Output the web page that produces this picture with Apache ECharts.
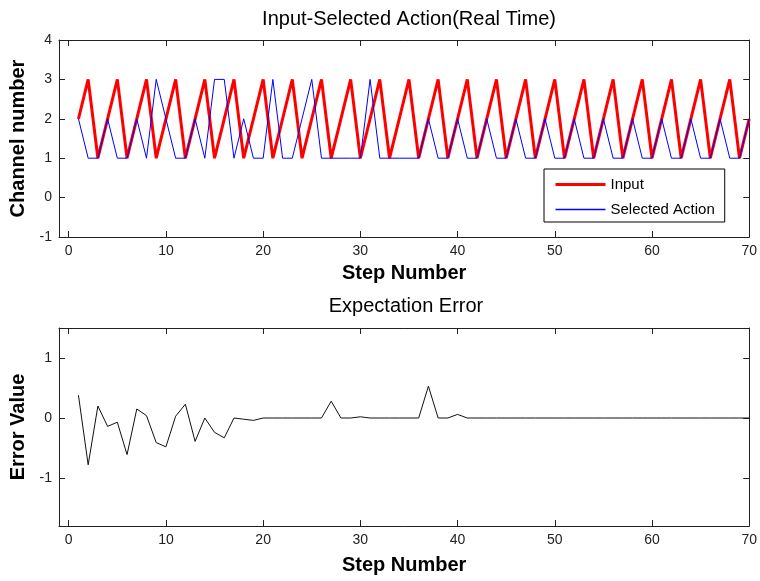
<!DOCTYPE html>
<html>
<head>
<meta charset="utf-8">
<script src="https://cdn.jsdelivr.net/npm/echarts@6/dist/echarts.min.js"></script>
<style>
html,body{margin:0;padding:0;background:#fff;}
#chart{width:760px;height:581px;}
</style>
</head>
<body>
<div id="chart"></div>
<script>
var steps = [1,2,3,4,5,6,7,8,9,10,11,12,13,14,15,16,17,18,19,20,21,22,23,24,25,26,27,28,29,30,31,32,33,34,35,36,37,38,39,40,41,42,43,44,45,46,47,48,49,50,51,52,53,54,55,56,57,58,59,60,61,62,63,64,65,66,67,68,69,70];
var inputVals = [2,3,1,2,3,1,2,3,1,2, 3,1,2,3,1,2,3,1,2,3, 1,2,3,1,2,3,1,2,3,1, 2,3,1,2,3,1,2,3,1,2, 3,1,2,3,1,2,3,1,2,3, 1,2,3,1,2,3,1,2,3,1, 2,3,1,2,3,1,2,3,1,2];
var actionVals = [2,1,1,2,1,1,2,1,3,2, 1,1,2,1,3,3,1,2,1,1, 3,1,1,2,3,1,1,1,1,1, 3,1,1,1,1,1,2,1,1,2, 1,1,2,1,1,2,1,1,2,1, 1,2,1,1,2,1,1,2,1,1, 2,1,1,2,1,1,2,1,1,2];
var errorVals = [0.38,-0.78,0.2,-0.14,-0.07,-0.61,0.15,0.04,-0.41,-0.48, 0.03,0.23,-0.39,0,-0.24,-0.33,0,-0.02,-0.04,0, 0,0,0,0,0,0,0.28,0,0,0.02, 0,0,0,0,0,0,0.53,0,0,0.06, 0,0,0,0,0,0,0,0,0,0, 0,0,0,0,0,0,0,0,0,0, 0,0,0,0,0,0,0,0,0,0];
var xTicks = [0,10,20,30,40,50,60,70];
var yTicksTop = [-1,0,1,2,3,4];
var yTicksBottom = [-1,0,1];

function pairs(vals){ return steps.map(function(s,i){ return [s, vals[i]]; }); }

var FONT = 'Liberation Sans';
var lineCol = '#222';

function xAx(grid, pos, labels, name, gap){
  return {
    type:'value', gridIndex:grid, position:pos, min:-1, max:70,
    axisLine:{show:true, onZero:false, lineStyle:{color:lineCol, width:1}},
    axisTick:{show:true, inside:true, length:6, customValues:xTicks, lineStyle:{color:lineCol}},
    axisLabel:{show:labels, customValues:xTicks, margin:7, color:'#222', fontFamily:FONT, fontSize:14},
    splitLine:{show:false},
    name: name || '', nameLocation:'middle', nameGap:gap || 25,
    nameTextStyle:{fontFamily:FONT, fontSize:20, fontWeight:'bold', color:'#000'}
  };
}
function yAx(grid, pos, labels, min, max, ticks, name){
  return {
    type:'value', gridIndex:grid, position:pos, min:min, max:max,
    axisLine:{show:true, onZero:false, lineStyle:{color:lineCol, width:1}},
    axisTick:{show:true, inside:true, length:6, customValues:ticks, lineStyle:{color:lineCol}},
    axisLabel:{show:labels, customValues:ticks, margin:7, color:'#222', fontFamily:FONT, fontSize:14},
    splitLine:{show:false},
    name: name || '', nameLocation:'middle', nameGap:23,
    nameTextStyle:{fontFamily:FONT, fontSize:20, fontWeight:'bold', color:'#000'}
  };
}

var chart = echarts.init(document.getElementById('chart'), null, {renderer:'canvas'});
chart.setOption({
  backgroundColor:'#fff',
  animation:false,
  title:[
    {text:'Input-Selected Action(Real Time)', left:409, top:9, textAlign:'center', padding:0,
     textStyle:{fontFamily:FONT, fontSize:20, fontWeight:'normal', color:'#000'}},
    {text:'Expectation Error', left:406, top:296, textAlign:'center', padding:0,
     textStyle:{fontFamily:FONT, fontSize:20, fontWeight:'normal', color:'#000'}}
  ],
  grid:[
    {left:59, top:40, width:693, height:197},
    {left:59, top:328, width:693, height:198}
  ],
  xAxis:[
    xAx(0,'bottom',true,'Step Number',26),
    xAx(0,'top',false),
    xAx(1,'bottom',true,'Step Number',29),
    xAx(1,'top',false)
  ],
  yAxis:[
    yAx(0,'left',true,-1,4,yTicksTop,'Channel number'),
    yAx(0,'right',false,-1,4,yTicksTop),
    yAx(1,'left',true,-1.8,1.5,yTicksBottom,'Error Value'),
    yAx(1,'right',false,-1.8,1.5,yTicksBottom)
  ],
  legend:{
    show:true,
    orient:'vertical', left:544, top:169,
    padding:[8,10,5,10], itemGap:10, itemWidth:50, itemHeight:14,
    borderColor:'#000', borderWidth:1, backgroundColor:'#fff',
    itemStyle:{opacity:0},
    textStyle:{fontFamily:FONT, fontSize:15, color:'#000'},
    data:[{name:'Input', lineStyle:{color:'#ff0000', width:3, opacity:1}},
          {name:'Selected Action', lineStyle:{color:'#0000ff', width:1.5, opacity:1}}]
  },
  series:[
    {name:'Input', type:'line', xAxisIndex:0, yAxisIndex:0, data:pairs(inputVals),
     showSymbol:false, symbol:'none', lineStyle:{color:'#ff0000', width:3}, itemStyle:{color:'#ff0000'}, z:2},
    {name:'Selected Action', type:'line', xAxisIndex:0, yAxisIndex:0, data:pairs(actionVals),
     showSymbol:false, symbol:'none', lineStyle:{color:'#0000ff', width:1}, itemStyle:{color:'#0000ff'}, z:3},
    {name:'Error', type:'line', xAxisIndex:2, yAxisIndex:2, data:pairs(errorVals),
     showSymbol:false, symbol:'none', lineStyle:{color:'#111', width:1}, itemStyle:{color:'#111'}}
  ]
});
</script>
</body>
</html>
